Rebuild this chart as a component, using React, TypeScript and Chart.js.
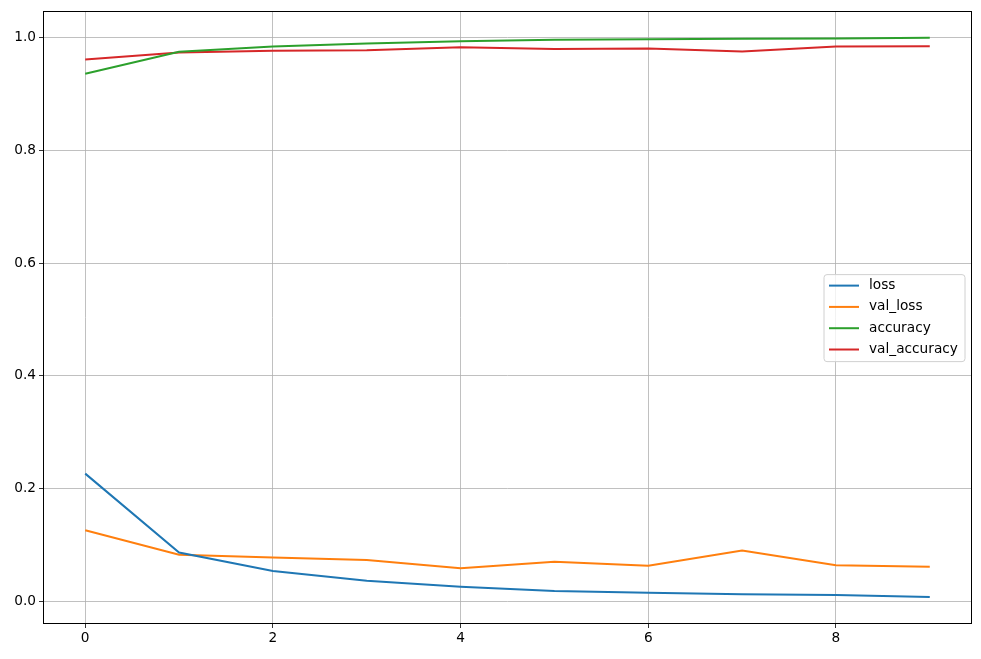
import React, { useEffect, useRef } from "react";
import { Chart, registerables } from "chart.js";

Chart.register(...registerables);

const epochs = [0, 1, 2, 3, 4, 5, 6, 7, 8, 9];
const loss = [0.2265, 0.0867, 0.054, 0.0365, 0.0258, 0.0182, 0.0152, 0.0124, 0.0111, 0.0076];
const valLoss = [0.1262, 0.0825, 0.0779, 0.0731, 0.0589, 0.07, 0.063, 0.0903, 0.0642, 0.0612];
const accuracy = [0.9356, 0.9747, 0.9842, 0.9895, 0.9935, 0.9959, 0.997, 0.9976, 0.9982, 0.9994];
const valAccuracy = [0.961, 0.9735, 0.9764, 0.9775, 0.9828, 0.9798, 0.9805, 0.9752, 0.9841, 0.9846];
const xTicks = [0, 2, 4, 6, 8];
const yTicks = [0, 0.2, 0.4, 0.6, 0.8, 1.0];
const seriesNames = ["loss", "val_loss", "accuracy", "val_accuracy"];
const seriesColors = ["#1f77b4", "#ff7f0e", "#2ca02c", "#d62728"];

const FONT = "DejaVu Sans";
const FSIZE = 13.7;

const framePlugin = {
  id: "mplFrame",
  afterDatasetsDraw(chart: any) {
    const ctx = chart.ctx;
    const ca = chart.chartArea;
    ctx.save();
    ctx.strokeStyle = "#000";
    ctx.lineWidth = 1;
    ctx.strokeRect(
      Math.round(ca.left) + 0.5,
      Math.round(ca.top) + 0.5,
      Math.round(ca.right - ca.left) - 1,
      Math.round(ca.bottom - ca.top) - 1
    );
    ctx.restore();
  },
};

const legendPlugin = {
  id: "mplLegend",
  afterDraw(chart: any) {
    const ctx = chart.ctx;
    const ca = chart.chartArea;
    const boxW = 141;
    const boxH = 87;
    const x0 = ca.right - 7 - boxW;
    const cy = (ca.top + ca.bottom) / 2;
    const y0 = cy - boxH / 2 + 0.5;
    ctx.save();
    ctx.fillStyle = "rgba(255,255,255,0.8)";
    ctx.strokeStyle = "#d0d0d0";
    ctx.lineWidth = 1;
    const r = 3;
    ctx.beginPath();
    ctx.moveTo(x0 + r, y0);
    ctx.lineTo(x0 + boxW - r, y0);
    ctx.quadraticCurveTo(x0 + boxW, y0, x0 + boxW, y0 + r);
    ctx.lineTo(x0 + boxW, y0 + boxH - r);
    ctx.quadraticCurveTo(x0 + boxW, y0 + boxH, x0 + boxW - r, y0 + boxH);
    ctx.lineTo(x0 + r, y0 + boxH);
    ctx.quadraticCurveTo(x0, y0 + boxH, x0, y0 + boxH - r);
    ctx.lineTo(x0, y0 + r);
    ctx.quadraticCurveTo(x0, y0, x0 + r, y0);
    ctx.closePath();
    ctx.fill();
    ctx.stroke();
    ctx.font = `${FSIZE}px "${FONT}"`;
    ctx.textBaseline = "middle";
    seriesNames.forEach((name, i) => {
      const y = y0 + 11 + i * 21.3;
      ctx.strokeStyle = seriesColors[i];
      ctx.lineWidth = 2;
      ctx.beginPath();
      ctx.moveTo(x0 + 5, y);
      ctx.lineTo(x0 + 35, y);
      ctx.stroke();
      ctx.fillStyle = "#000";
      ctx.fillText(name, x0 + 45, y);
    });
    ctx.restore();
  },
};

export default function App() {
  const ref = useRef<HTMLCanvasElement | null>(null);
  useEffect(() => {
    if (!ref.current) return;
    const mk = (vals: number[]) => epochs.map((e, i) => ({ x: e, y: vals[i] }));
    const all = [loss, valLoss, accuracy, valAccuracy];
    const chart = new Chart(ref.current, {
      type: "line",
      data: {
        datasets: all.map((vals, i) => ({
          label: seriesNames[i],
          data: mk(vals),
          borderColor: seriesColors[i],
          backgroundColor: seriesColors[i],
          borderWidth: 2,
          pointRadius: 0,
          tension: 0,
          fill: false,
        })),
      },
      options: {
        responsive: false,
        animation: false,
        layout: { padding: { top: 10, right: 9, left: 0, bottom: 0 } },
        plugins: { legend: { display: false }, tooltip: { enabled: false } },
        scales: {
          x: {
            type: "linear",
            min: -0.45,
            max: 9.45,
            afterBuildTicks: (s: any) => {
              s.ticks = xTicks.map((v) => ({ value: v }));
            },
            afterFit: (s: any) => {
              s.height = 35;
            },
            ticks: {
              color: "#000",
              font: { family: FONT, size: FSIZE },
              padding: 2,
              maxRotation: 0,
              callback: (v: any) => String(v),
            },
            grid: { color: "#b0b0b0", lineWidth: 0.8, tickColor: "#000", tickLength: 4 },
            border: { display: false },
          },
          y: {
            type: "linear",
            min: -0.0402,
            max: 1.0466,
            afterBuildTicks: (s: any) => {
              s.ticks = yTicks.map((v) => ({ value: v }));
            },
            afterFit: (s: any) => {
              s.width = 43;
            },
            ticks: {
              color: "#000",
              font: { family: FONT, size: FSIZE },
              padding: 3,
              callback: (v: any) => Number(v).toFixed(1),
            },
            grid: { color: "#b0b0b0", lineWidth: 0.8, tickColor: "#000", tickLength: 4 },
            border: { display: false },
          },
        },
      },
      plugins: [framePlugin, legendPlugin],
    } as any);
    return () => chart.destroy();
  }, []);
  return (
    <div style={{ position: "fixed", left: 0, top: 0, width: 981, height: 659, background: "#fff" }}>
      <canvas ref={ref} width={981} height={659} style={{ width: 981, height: 659 }} />
    </div>
  );
}
